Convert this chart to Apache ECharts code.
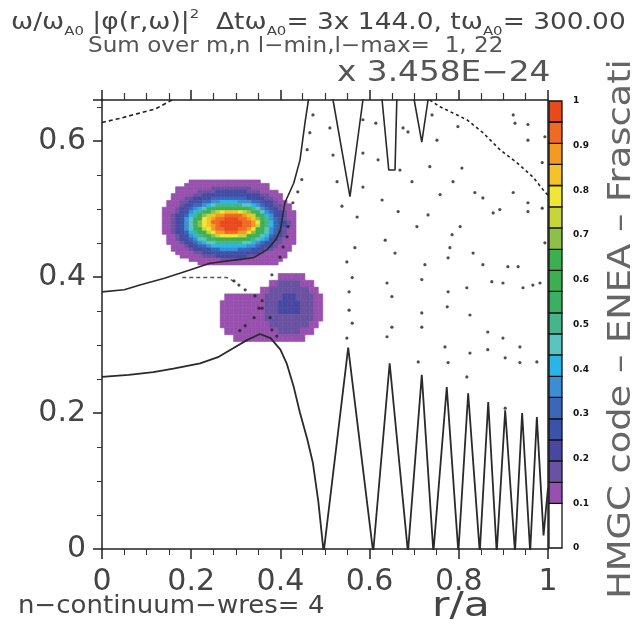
<!DOCTYPE html>
<html><head><meta charset="utf-8">
<script src="https://cdn.jsdelivr.net/npm/echarts@6/dist/echarts.min.js"></script>
<style>html,body{margin:0;padding:0;background:#fff}#c{width:636px;height:632px}</style>
</head><body><div id="c"></div>
<script>
// ---------- data ----------
const xRange = [0, 1];
const yRange = [0, 0.66];
const cbTickStep = 0.1;

// contour levels (colour bands) and their colours, bottom to top
const levels = [0.1,0.147,0.195,0.242,0.289,0.337,0.384,0.432,0.479,0.526,0.574,0.621,0.668,0.716,0.763,0.811,0.858,0.905,0.953,1.0];
const bandColors = ['#9850ae','#6a52a2','#4848a2','#3c52aa','#3c66b8','#3c8ed4','#28b6e8','#5ac4c0','#48b48a','#3cb062','#3cb050','#3cb04e','#8cc048','#c8d43c','#f0e634','#f5c22a','#f39a22','#f06a24','#e84a1e'];
const bandLetters = 'abcdefghijklmnopqrs';

// heat map grid: cell centres ('.' = below lowest level, 'a'..'s' = colour band)
const heatX = [0.13,0.14,0.15,0.16,0.17,0.18,0.19,0.20,0.21,0.22,0.23,0.24,0.25,0.26,0.27,0.28,0.29,0.30,0.31,0.32,0.33,0.34,0.35,0.36,0.37,0.38,0.39,0.40,0.41,0.42,0.43,0.44,0.45,0.46,0.47,0.48,0.49,0.50];
// upper mode (fine rows)
const heatYUpper = [0.540,0.535,0.530,0.525,0.520,0.515,0.510,0.505,0.500,0.495,0.490,0.485,0.480,0.475,0.470,0.465,0.460,0.455,0.450,0.445,0.440,0.435,0.430,0.425,0.420];
const heatRowsUpper = [
  '.......aaaaaaaaaaaaaaaa...............',
  '......aaaaaaaaaaaaaaaaaaa.............',
  '....aaaaaaaabbbbbbbbbaaaa.............',
  '....aaaaabbbbcccccccbbbaaaa...........',
  '...aaaaabbcccdddddddcccbbaaa..........',
  '...aaabbccddeeeeeeeeddccbbaa..........',
  '..aaabbcddeeffggggfffeedccbaa.........',
  '..aaabcdeefghiiiiiihhgfedcbbaa........',
  '.aaabcdefghjjllllllkjihfedcbaa........',
  '.aaabcdfgijlmnoppponmkjhfedcbaa.......',
  '.aabcdegikmnpqqrrrrqpnljgfdcbaa.......',
  '.aabcdfhjlopqrrsssrrqpmkifedbaa.......',
  '.aabcdfhkmoprrsssssrrqoligedcba.......',
  '.aabcdfhjmopqrsssssrrqnligedcba.......',
  '.aabcdfhjlnoqrrsssrrqolkhfedbaa.......',
  '.aabcdegiklnoqqrrrqqomkjhfecbaa.......',
  '..aabcdfgijlmnoooonnlkjhgedcbaa.......',
  '..aabcdefhhjjkllllkkjihgfdcbaaa.......',
  '..aaabcdefghhiiiiiihhgfedcbbaaa.......',
  '...aaabcdeefggggggggffeddcbaaa........',
  '...aaaabccddeeffffeeeddcbbaaaa........',
  '....aaaabbccddddddddcccbaaaaa.........',
  '.....aaaaabbbcccccccbbaaaaaaa.........',
  '.......aaaaaaabbbbbaaaaaaaaa..........',
  '.........aaaaaaaaaaaaaaaaaa...........'
];
// lower mode (coarse rows)
const heatYLower = [0.40,0.39,0.38,0.37,0.36,0.35,0.34,0.33,0.32,0.31];
const heatRowsLower = [
  '...........................aaaaaa.....',
  '.........................aabbbbbaaa...',
  '.......................aabbbbbbbbbaa..',
  '...............aaaaaaaaabbbbcccbbbbaa.',
  '..............aaaaaaaaaabbbcccccbbbaa.',
  '..............aaaaaaaaaabbbcccccbbbaa.',
  '..............aaaaaaaaaabbbbbbbbbbbaa.',
  '..............aaaaaaaaaaabbbbbbbbbaa..',
  '...............aaaaaaaaaaaabbbbbaaa...',
  '.................aaaaaaaaaaaaaaaa.....'
];

// continuum / resonance curves (r/a, omega/omega_A0)
const upperDashed = [[0,0.627],[0.04,0.633],[0.08,0.64],[0.12,0.647],[0.157,0.66],[0.17,0.67]];
const mainBranch = [[0,0.378],[0.05,0.381],[0.085,0.388],[0.14,0.398],[0.197,0.41],[0.242,0.42],[0.3,0.425],[0.339,0.428],[0.37,0.44],[0.39,0.455],[0.40,0.469],[0.41,0.509],[0.43,0.538],[0.444,0.572],[0.455,0.626],[0.462,0.656],[0.47,0.70],[0.51,0.70],[0.518,0.66],[0.556,0.518],[0.585,0.66],[0.59,0.70],[0.62,0.70],[0.628,0.66],[0.643,0.557],[0.657,0.557],[0.661,0.66],[0.665,0.70],[0.695,0.70],[0.70,0.66],[0.717,0.598],[0.731,0.66],[0.735,0.68]];
const rightDiag = [[0.735,0.66],[0.758,0.65],[0.818,0.631],[0.854,0.612],[0.892,0.587],[0.93,0.568],[0.966,0.547],[0.989,0.528],[1,0.52]];
const midDashed = [[0.18,0.399],[0.28,0.399],[0.303,0.391]];
const lowerBranch = [[0,0.253],[0.06,0.256],[0.115,0.26],[0.16,0.265],[0.22,0.273],[0.26,0.282],[0.294,0.295],[0.325,0.307],[0.354,0.316],[0.378,0.31],[0.40,0.293],[0.414,0.273],[0.43,0.238],[0.444,0.2],[0.46,0.162],[0.473,0.126],[0.485,0.07],[0.497,-0.005],[0.552,0.296],[0.608,-0.005],[0.645,0.273],[0.686,-0.005],[0.717,0.256],[0.743,-0.005],[0.773,0.238],[0.799,-0.005],[0.821,0.229],[0.847,-0.005],[0.866,0.216],[0.885,-0.005],[0.904,0.204],[0.926,-0.005],[0.942,0.2],[0.96,-0.005],[0.975,0.194],[0.99,0.02],[1.0,0.09]];
const gridDots = [[0.473,0.638],[0.466,0.612],[0.460,0.587],[0.448,0.543],[0.439,0.525],[0.428,0.509],[0.417,0.474],[0.415,0.459],[0.406,0.444],[0.399,0.429],
[0.511,0.619],[0.518,0.579],[0.527,0.540],[0.538,0.504],[0.572,0.488],[0.567,0.443],[0.549,0.422],[0.561,0.399],[0.554,0.378],[0.554,0.351],[0.561,0.332],[0.549,0.310],
[0.585,0.631],[0.614,0.626],[0.585,0.582],[0.585,0.532],[0.619,0.572],[0.628,0.513],[0.664,0.496],[0.635,0.454],[0.657,0.435],[0.639,0.391],[0.650,0.371],[0.650,0.326],[0.639,0.312],
[0.675,0.619],[0.686,0.613],[0.668,0.557],[0.695,0.540],[0.706,0.474],[0.731,0.491],[0.724,0.418],[0.751,0.601],[0.735,0.562],[0.740,0.638],[0.758,0.521],[0.776,0.428],[0.785,0.462],[0.780,0.443],
[0.717,0.396],[0.776,0.378],[0.774,0.356],[0.717,0.347],[0.717,0.326],[0.803,0.474],[0.807,0.560],[0.787,0.540],[0.798,0.621],[0.836,0.524],[0.854,0.516],[0.818,0.384],[0.825,0.344],
[0.832,0.435],[0.854,0.418],[0.874,0.393],[0.899,0.391],[0.892,0.499],[0.877,0.494],[0.922,0.524],[0.926,0.626],[0.922,0.638],[0.955,0.624],[0.955,0.601],[0.993,0.606],[0.987,0.568],
[0.955,0.509],[0.987,0.501],[0.993,0.450],[0.955,0.496],[0.910,0.415],[0.933,0.415],[0.944,0.384],[0.966,0.388],[0.982,0.391],[0.865,0.319],[0.899,0.310],
[0.769,0.297],[0.825,0.288],[0.865,0.293],[0.937,0.297],[0.709,0.275],[0.776,0.274],[0.904,0.281],[0.937,0.274],[0.975,0.275],[0.818,0.253],[0.904,0.207],
[0.296,0.394],[0.307,0.388],[0.321,0.381],[0.343,0.372],[0.359,0.365],[0.352,0.354],[0.341,0.340],[0.321,0.328],[0.309,0.321],[0.359,0.354],[0.377,0.340],[0.381,0.322],[0.392,0.313],[0.381,0.403]];

// ---------- build ----------
const bandMid = [];
for (let i = 0; i < bandColors.length; i++) bandMid.push((levels[i] + levels[i + 1]) / 2);
const cellW = heatX[1] - heatX[0];
const heatData = [];
function addRows(rows, ys) {
  const cellH = Math.abs(ys[0] - ys[1]);
  rows.forEach((row, r) => {
    for (let c = 0; c < row.length && c < heatX.length; c++) {
      const k = bandLetters.indexOf(row[c]);
      if (k >= 0) heatData.push([heatX[c], ys[r], bandMid[k], cellH]);
    }
  });
}
addRows(heatRowsUpper, heatYUpper);
addRows(heatRowsLower, heatYLower);
const pieces = bandColors.map((col, i) => ({gte: levels[i], lt: i === bandColors.length - 1 ? 1.0001 : levels[i + 1], color: col}));
const cbData = [[0, levels[0], '#ffffff']].concat(bandColors.map((col, i) => [levels[i], levels[i + 1], col]));

const FONT = 'DejaVu Sans';
const TXT = '#444';

const chart = echarts.init(document.getElementById('c'), null, {renderer: 'canvas'});
chart.setOption({
  animation: false,
  backgroundColor: '#fff',
  grid: [
    {left: 102, top: 100, width: 446, height: 449},
    {left: 549, top: 101, width: 13, height: 447}
  ],
  xAxis: [
    {gridIndex: 0, type: 'value', position: 'bottom', min: xRange[0], max: xRange[1], interval: 0.2,
     axisLine: {onZero: false, lineStyle: {color: '#222', width: 1.5}}, splitLine: {show: false},
     axisTick: {length: 10, lineStyle: {color: '#222', width: 1.5}},
     minorTick: {show: true, splitNumber: 4, length: 6, lineStyle: {color: '#333', width: 1}},
     axisLabel: {fontFamily: FONT, fontSize: 30, color: TXT, margin: 18}},
    {gridIndex: 0, type: 'value', position: 'top', min: xRange[0], max: xRange[1], interval: 0.2,
     axisLine: {show: true, onZero: false, lineStyle: {color: '#222', width: 1.5}}, splitLine: {show: false},
     axisTick: {show: true, length: 10, lineStyle: {color: '#222', width: 1.5}},
     minorTick: {show: true, splitNumber: 4, length: 7, lineStyle: {color: '#333', width: 1.2}},
     axisLabel: {show: false}},
    {gridIndex: 1, type: 'value', min: 0, max: 1, show: false}
  ],
  yAxis: [
    {gridIndex: 0, type: 'value', position: 'left', min: yRange[0], max: yRange[1], interval: 0.2,
     axisLine: {show: true, onZero: false, lineStyle: {color: '#222', width: 1.5}}, splitLine: {show: false},
     axisTick: {show: true, length: 9, lineStyle: {color: '#222', width: 1.5}},
     minorTick: {show: true, splitNumber: 4, length: 5, lineStyle: {color: '#333', width: 1}},
     axisLabel: {fontFamily: FONT, fontSize: 30, color: TXT, margin: 16, showMaxLabel: false}},
    {gridIndex: 0, type: 'value', position: 'right', min: yRange[0], max: yRange[1],
     axisLine: {show: true, onZero: false, lineStyle: {color: '#222', width: 1.5}}, axisTick: {show: false},
     axisLabel: {show: false}, splitLine: {show: false}},
    {gridIndex: 1, type: 'value', position: 'right', min: 0, max: 1, interval: cbTickStep,
     axisLine: {show: false}, axisTick: {show: false}, splitLine: {show: false},
     axisLabel: {fontFamily: FONT, fontSize: 9, fontWeight: 'bold', color: '#111', margin: 11}}
  ],
  visualMap: [{type: 'piecewise', show: false, seriesIndex: 0, dimension: 2, pieces: pieces}],
  series: [
    {type: 'custom', xAxisIndex: 0, yAxisIndex: 0, data: heatData, encode: {x: 0, y: 1}, z: 1,
     renderItem: function (params, api) {
       const h = api.value(3);
       const p = api.coord([api.value(0) - cellW / 2, api.value(1) + h / 2]);
       const s = api.size([cellW, h]);
       const col = api.visual('color');
       return {type: 'rect', shape: {x: p[0], y: p[1], width: s[0], height: s[1]},
               style: {fill: col, stroke: col, lineWidth: 0.6}};
     }},
    {type: 'custom', xAxisIndex: 2, yAxisIndex: 2, data: cbData, encode: {y: [0, 1]}, z: 2,
     renderItem: function (params, api) {
       const p0 = api.coord([0, api.value(1)]);
       const p1 = api.coord([1, api.value(0)]);
       return {type: 'rect', shape: {x: p0[0], y: p0[1], width: p1[0] - p0[0], height: p1[1] - p0[1]},
               style: {fill: cbData[params.dataIndex][2], stroke: '#111', lineWidth: 1.3}};
     }},
    {type: 'line', data: upperDashed, showSymbol: false, z: 3, lineStyle: {color: '#222', width: 1.6, type: [4, 3]}},
    {type: 'line', data: mainBranch, showSymbol: false, z: 3, lineStyle: {color: '#2a2a2a', width: 1.6}},
    {type: 'line', data: rightDiag, showSymbol: false, z: 3, lineStyle: {color: '#222', width: 1.6, type: [3, 3]}},
    {type: 'line', data: midDashed, showSymbol: false, z: 3, lineStyle: {color: '#555', width: 1.4, type: [4, 3]}},
    {type: 'line', data: lowerBranch, showSymbol: false, z: 3, lineStyle: {color: '#2a2a2a', width: 1.8}},
    {type: 'scatter', data: gridDots, symbol: 'circle', symbolSize: 3.2, z: 4, itemStyle: {color: '#222'}}
  ],
  graphic: [
    {type: 'text', x: 11, y: 8, scaleX: 1.15, z: 10, style: {
      text: '{t|ω/ω}{s|A0}{t| |φ(r,ω)|}{p|2}{t|  Δtω}{s|A0}{t|= 3x 144.0, tω}{s|A0}{t|= 300.00}',
      rich: {t: {fontFamily: FONT, fontSize: 23, fill: TXT, color: TXT, lineHeight: 30},
             s: {fontFamily: FONT, fontSize: 13, fill: TXT, color: TXT, verticalAlign: 'bottom', lineHeight: 30},
             p: {fontFamily: FONT, fontSize: 13, fill: TXT, color: TXT, verticalAlign: 'top', lineHeight: 30}}}},
    {type: 'text', x: 88, y: 36, scaleX: 1.1, z: 10, style: {text: 'Sum over m,n l−min,l−max=  1, 22', fontFamily: FONT, fontSize: 21, fill: '#555'}},
    {type: 'text', x: 337, y: 60, scaleX: 1.17, z: 10, style: {text: 'x 3.458E−24', fontFamily: FONT, fontSize: 28, fill: '#555'}},
    {type: 'text', x: 18, y: 594, scaleX: 1.04, z: 10, style: {text: 'n−continuum−wres= 4', fontFamily: FONT, fontSize: 25, fill: TXT}},
    {type: 'text', x: 432, y: 590, scaleX: 1.25, z: 10, style: {text: 'r/a', fontFamily: FONT, fontSize: 34, fill: TXT}},
    {type: 'text', x: 622, y: 329, rotation: Math.PI / 2, scaleX: 1.15, z: 10, style: {text: 'HMGC code – ENEA – Frascati', fontFamily: FONT, fontSize: 32, fill: '#666', align: 'center', verticalAlign: 'middle'}}
  ]
});
</script>
</body></html>
